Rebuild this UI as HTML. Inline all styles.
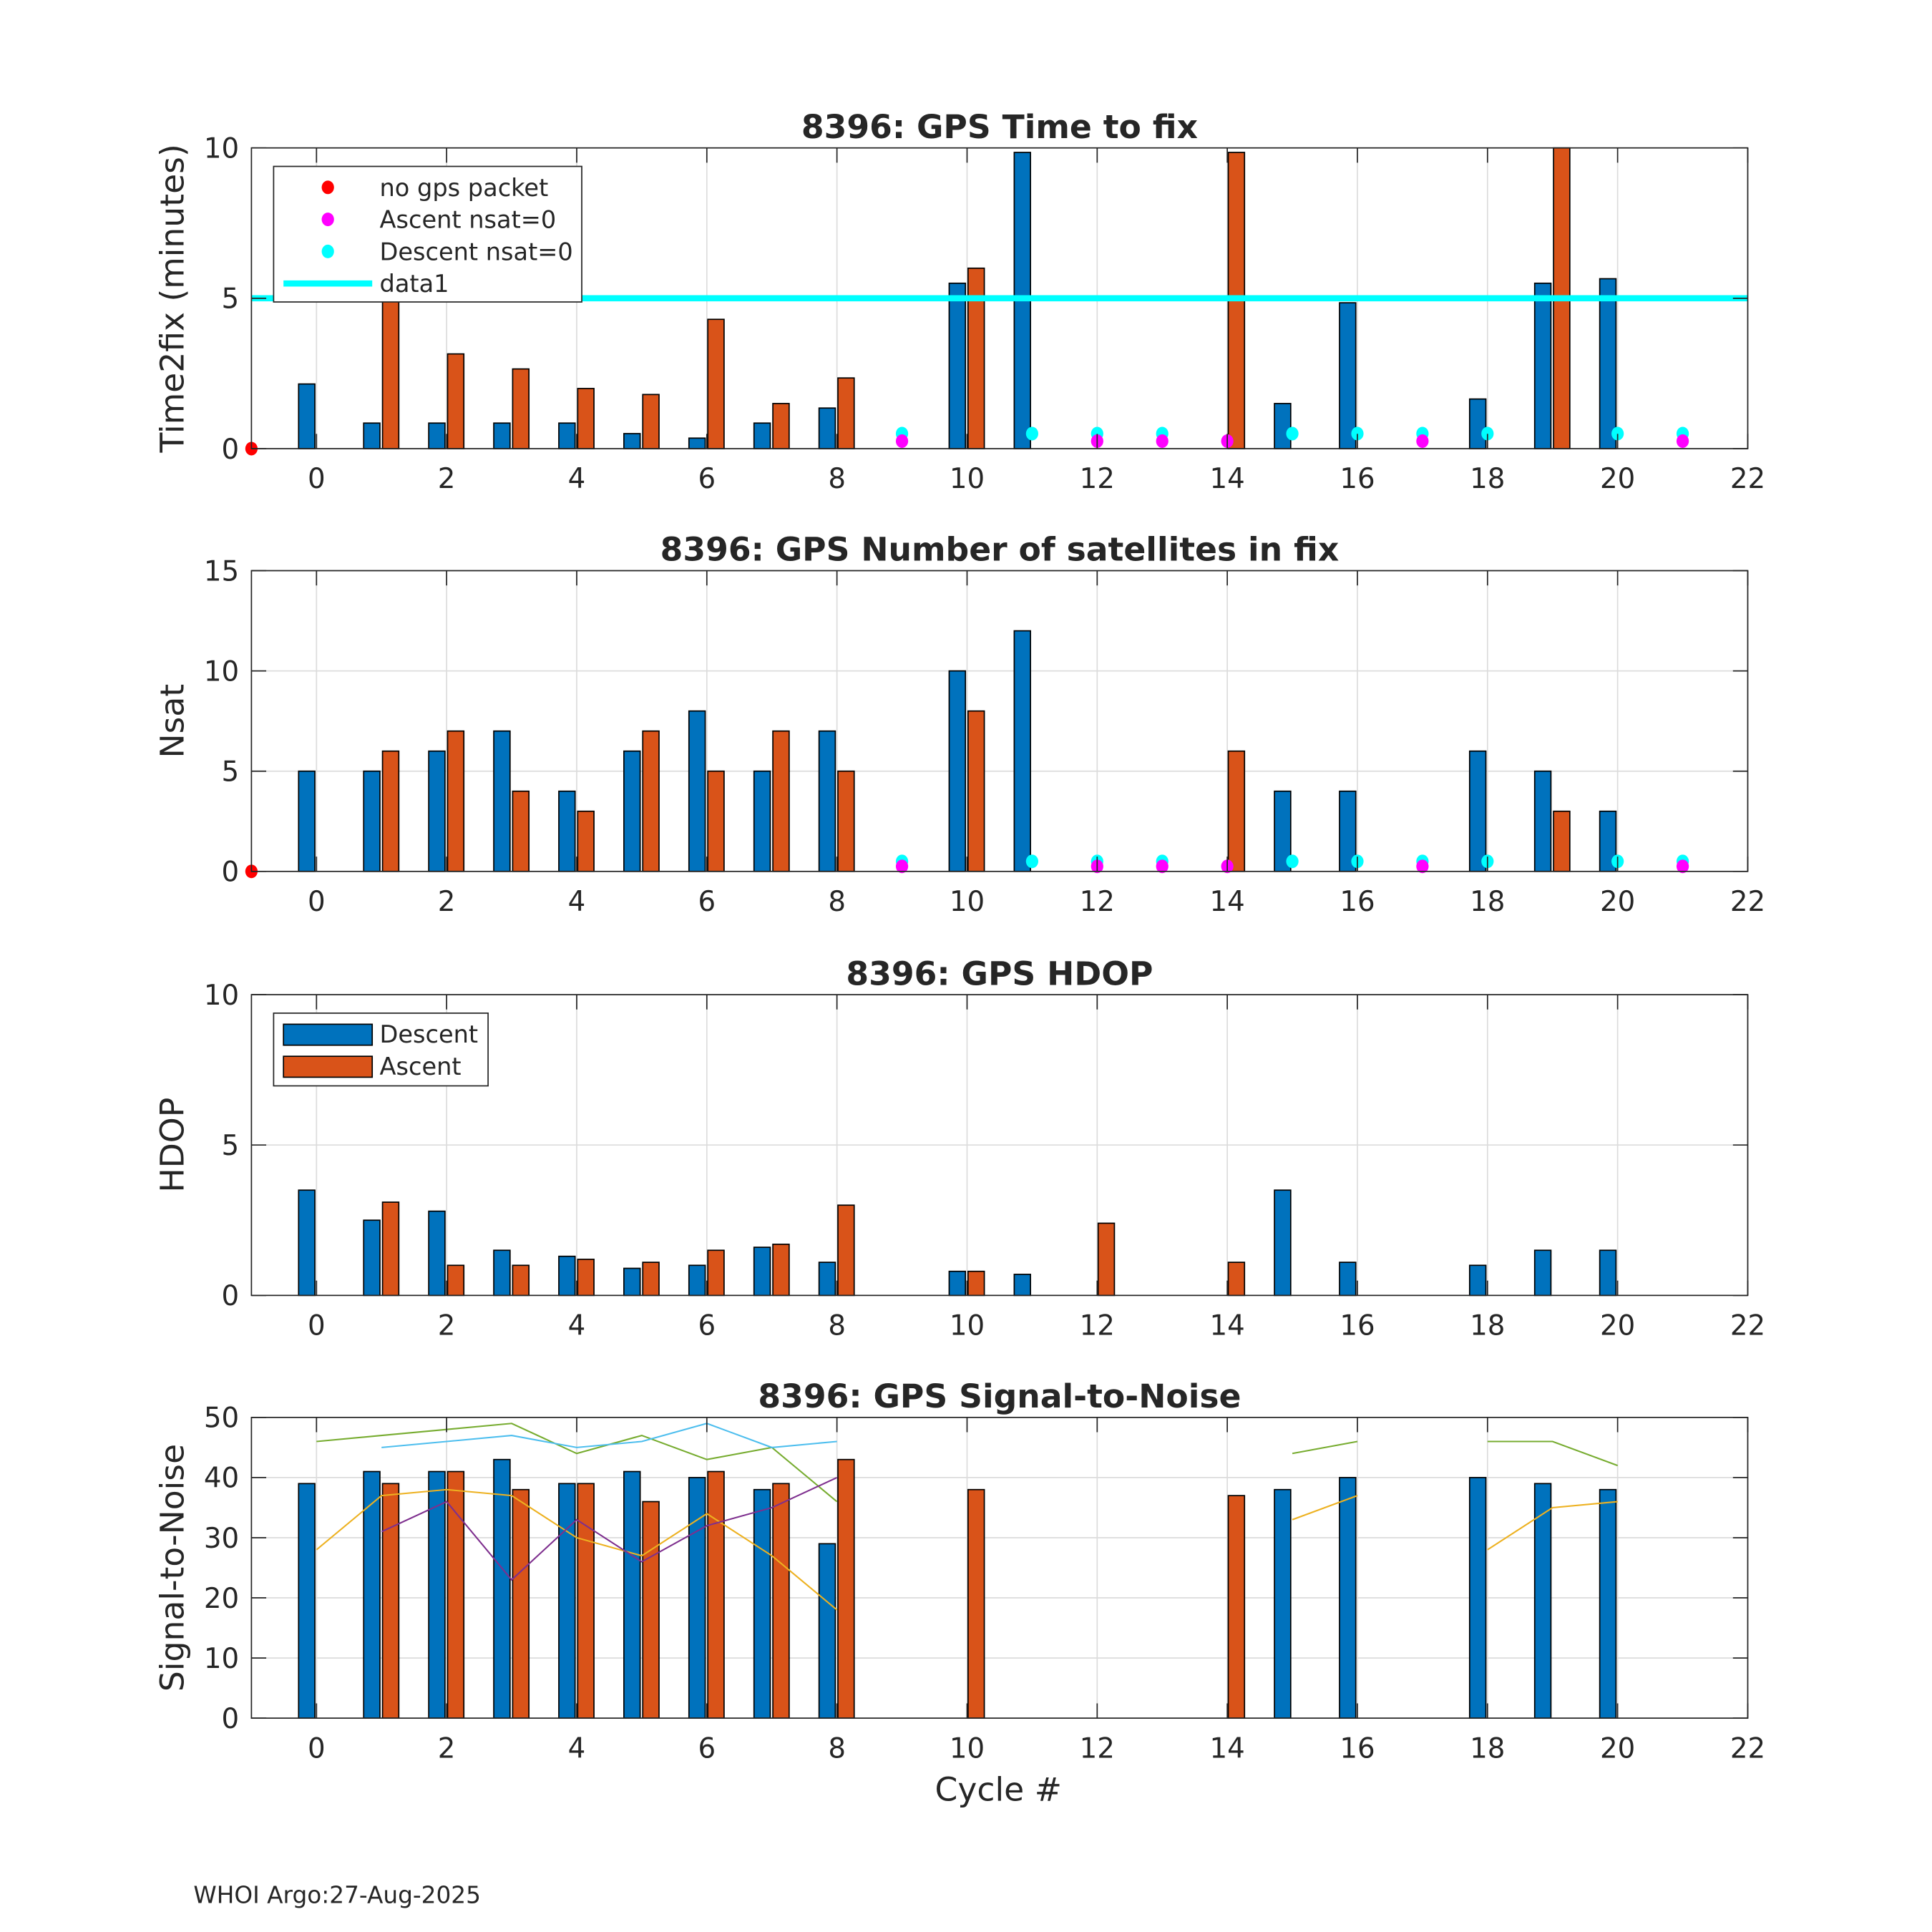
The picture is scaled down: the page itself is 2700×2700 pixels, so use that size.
<!DOCTYPE html>
<html><head><meta charset="utf-8">
<style>
html,body{margin:0;padding:0;background:#fff;}
svg{display:block;}
text{font-family:"DejaVu Sans","Liberation Sans",sans-serif;fill:#262626;}
</style></head>
<body>
<svg id="fig" width="2700" height="2700" viewBox="0 0 1567.5 1567.5" xmlns="http://www.w3.org/2000/svg">
<rect width="1567.5" height="1567.5" fill="#fff"/>
<g id="root"></g>
<text x="810" y="1461" font-size="26.5" text-anchor="middle">Cycle #</text>
<text x="157" y="1544" font-size="19" fill="#000">WHOI Argo:27-Aug-2025</text>
</svg>
<script>
const cycles=[0,1,2,3,4,5,6,7,8,9,10,11,12,13,14,15,16,17,18,19,20,21];
const t2fDesc=[2.15,0.85,0.85,0.85,0.85,0.5,0.35,0.85,1.35,null,5.5,9.85,null,null,null,1.5,4.85,null,1.65,5.5,5.65,null];
const t2fAsc=[null,4.9,3.15,2.65,2.0,1.8,4.3,1.5,2.35,null,6.0,null,null,null,9.85,null,null,null,null,10,null,null];
const nsatDesc=[5,5,6,7,4,6,8,5,7,null,10,12,null,null,null,4,4,null,6,5,3,null];
const nsatAsc=[null,6,7,4,3,7,5,7,5,null,8,null,null,null,6,null,null,null,null,3,null,null];
const hdopDesc=[3.5,2.5,2.8,1.5,1.3,0.9,1.0,1.6,1.1,null,0.8,0.7,null,null,null,3.5,1.1,null,1.0,1.5,1.5,null];
const hdopAsc=[null,3.1,1.0,1.0,1.2,1.1,1.5,1.7,3.0,null,0.8,null,2.4,null,1.1,null,null,null,null,null,null,null];
const snrDesc=[39,41,41,43,39,41,40,38,29,null,null,null,null,null,null,38,40,null,40,39,38,null];
const snrAsc=[null,39,41,38,39,36,41,39,43,null,38,null,null,null,37,null,null,null,null,null,null,null];
const snrGreen=[46,47,48,49,44,47,43,45,36,null,null,null,null,null,null,44,46,null,46,46,42,null];
const snrBlue=[null,45,46,47,45,46,49,45,46,null,null,null,null,null,null,null,null,null,null,null,null,null];
const snrYellow=[28,37,38,37,30,27,34,27,18,null,null,null,null,null,null,33,37,null,28,35,36,null];
const snrPurple=[null,31,36,23,33,26,32,35,40,null,null,null,null,null,null,null,null,null,null,null,null,null];
const descZeroCycles=[9,11,12,13,15,16,17,18,20,21];
const ascZeroCycles=[9,12,13,14,17,21];
const noPacketCycles=[-1];
const xTicks=[0,2,4,6,8,10,12,14,16,18,20,22];

const NS="http://www.w3.org/2000/svg";
const root=document.getElementById('root');
function mk(tag,attrs,parent){const e=document.createElementNS(NS,tag);for(const k in attrs)e.setAttribute(k,attrs[k]);(parent||root).appendChild(e);return e;}
const X0=204,X1=1418,XMIN=-1,XMAX=22;
const xs=v=>X0+(v-XMIN)/(XMAX-XMIN)*(X1-X0);

function panel(cfg){
  const g=mk('g',{});
  
  
  const ys=v=>cfg.y1-(v-cfg.ymin)/(cfg.ymax-cfg.ymin)*(cfg.y1-cfg.y0);
  xTicks.forEach(t=>{mk('line',{x1:xs(t),x2:xs(t),y1:cfg.y0,y2:cfg.y1,stroke:'#dcdcdc','stroke-width':1},g);});
  cfg.yTicks.forEach(t=>{mk('line',{x1:X0,x2:X1,y1:ys(t),y2:ys(t),stroke:'#dcdcdc','stroke-width':1},g);});
  const bw=0.25*(X1-X0)/(XMAX-XMIN);
  cfg.desc.forEach((v,i)=>{if(v==null)return;const x=xs(cycles[i]-0.15);const r=mk('rect',{x:x-bw/2,y:ys(v),width:bw,height:ys(0)-ys(v),fill:'#0072bd',stroke:'#000','stroke-width':1},g);
    });
  cfg.asc.forEach((v,i)=>{if(v==null)return;const x=xs(cycles[i]+0.14);const r=mk('rect',{x:x-bw/2,y:ys(v),width:bw,height:ys(0)-ys(v),fill:'#d95319',stroke:'#000','stroke-width':1},g);
    });
  if(cfg.extra)cfg.extra(g,ys);
  mk('rect',{x:X0,y:cfg.y0,width:X1-X0,height:cfg.y1-cfg.y0,fill:'none',stroke:'#262626','stroke-width':1},g);
  xTicks.forEach(t=>{mk('line',{x1:xs(t),x2:xs(t),y1:cfg.y1,y2:cfg.y1-12,stroke:'#262626'},g);mk('line',{x1:xs(t),x2:xs(t),y1:cfg.y0,y2:cfg.y0+12,stroke:'#262626'},g);
    const tx=mk('text',{x:xs(t),y:cfg.y1+32,'font-size':22.5,'text-anchor':'middle'},g);tx.textContent=t;
    });
  cfg.yTicks.forEach(t=>{mk('line',{x1:X0,x2:X0+12,y1:ys(t),y2:ys(t),stroke:'#262626'},g);mk('line',{x1:X1,x2:X1-12,y1:ys(t),y2:ys(t),stroke:'#262626'},g);
    const tx=mk('text',{x:X0-10,y:ys(t)+8,'font-size':22.5,'text-anchor':'end'},g);tx.textContent=t;
    });
  const ti=mk('text',{x:811,y:cfg.y0-8,'font-size':26.5,'font-weight':'bold','text-anchor':'middle',fill:'#000'},g);ti.textContent=cfg.title;
  
  const yl=mk('text',{x:0,y:0,'font-size':26.5,'text-anchor':'middle',transform:`translate(149,${(cfg.y0+cfg.y1)/2}) rotate(-90)`},g);yl.textContent=cfg.ylabel;
  
  return {g,ys};
}
function dots(g,ys,vd,va){
  descZeroCycles.forEach(c=>{const d=mk('ellipse',{cx:xs(c),cy:ys(vd),rx:5,ry:5.5,fill:'#00ffff'},g);});
  ascZeroCycles.forEach(c=>{const d=mk('ellipse',{cx:xs(c),cy:ys(va),rx:5,ry:5.5,fill:'#ff00ff'},g);});
  noPacketCycles.forEach(c=>{const d=mk('ellipse',{cx:xs(c),cy:ys(0),rx:5,ry:5.5,fill:'#ff0000'},g);});
}
panel({name:'time-to-fix-panel',title:'8396: GPS Time to fix',ylabel:'Time2fix (minutes)',y0:120,y1:364,ymin:0,ymax:10,yTicks:[0,5,10],desc:t2fDesc,asc:t2fAsc,
 extra:(g,ys)=>{const l=mk('line',{x1:X0,x2:X1,y1:ys(5),y2:ys(5),stroke:'#00ffff','stroke-width':5},g);dots(g,ys,0.5,0.25);}});
(function(){const g=mk('g',{});
 mk('rect',{x:222,y:135,width:250,height:110,fill:'#fff',stroke:'#262626'},g);
 const items=[['no gps packet','#ff0000'],['Ascent nsat=0','#ff00ff'],['Descent nsat=0','#00ffff'],['data1',null]];
 items.forEach((it,i)=>{const y=152+i*26;
  if(it[1])mk('ellipse',{cx:266,cy:y,rx:5,ry:5.5,fill:it[1]},g);else mk('line',{x1:230,x2:302,y1:y,y2:y,stroke:'#00ffff','stroke-width':5},g);
  const t=mk('text',{x:308,y:y+7,'font-size':19.5,fill:'#000'},g);t.textContent=it[0];});})();
panel({name:'nsat-panel',title:'8396: GPS Number of satellites in fix',ylabel:'Nsat',y0:463,y1:707,ymin:0,ymax:15,yTicks:[0,5,10,15],desc:nsatDesc,asc:nsatAsc,
 extra:(g,ys)=>dots(g,ys,0.5,0.25)});
panel({name:'hdop-panel',title:'8396: GPS HDOP',ylabel:'HDOP',y0:807,y1:1051,ymin:0,ymax:10,yTicks:[0,5,10],desc:hdopDesc,asc:hdopAsc});
(function(){const g=mk('g',{});
 mk('rect',{x:222,y:822,width:174,height:59,fill:'#fff',stroke:'#262626'},g);
 [['Descent','#0072bd'],['Ascent','#d95319']].forEach((it,i)=>{const y=839+i*26;
  mk('rect',{x:230,y:y-8,width:72,height:17,fill:it[1],stroke:'#000'},g);
  const t=mk('text',{x:308,y:y+7,'font-size':19.5,fill:'#000'},g);t.textContent=it[0];});})();
panel({name:'snr-panel',title:'8396: GPS Signal-to-Noise',ylabel:'Signal-to-Noise',y0:1150,y1:1394,ymin:0,ymax:50,yTicks:[0,10,20,30,40,50],desc:snrDesc,asc:snrAsc,
 extra:(g,ys)=>{
  [[snrGreen,'#77ac30','snr-line-green'],[snrBlue,'#4dbeee','snr-line-blue'],[snrYellow,'#edb120','snr-line-yellow'],[snrPurple,'#7e2f8e','snr-line-purple']].forEach(s=>{
   let d='',pen=false;s[0].forEach((v,i)=>{if(v==null){pen=false;return;}d+=(pen?'L':'M')+xs(cycles[i])+','+ys(v);pen=true;});
   const p=mk('path',{d:d,fill:'none',stroke:s[1],'stroke-width':1.2},g);});
 }});
</script>
</body></html>
